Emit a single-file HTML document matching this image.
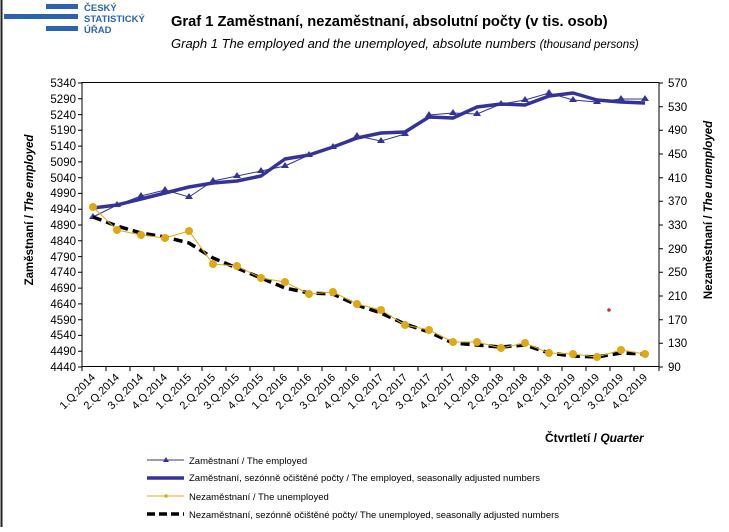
<!DOCTYPE html>
<html><head><meta charset="utf-8"><style>
body{margin:0;width:729px;height:527px;background:#fff;overflow:hidden;font-family:"Liberation Sans",sans-serif}
</style></head><body>
<svg width="729" height="527" xmlns="http://www.w3.org/2000/svg" font-family="Liberation Sans, sans-serif">
<line x1="1.5" y1="0" x2="1.5" y2="527" stroke="#222" stroke-width="2"/>
<rect x="46" y="4" width="32" height="5" fill="#2a64b0"/>
<rect x="4" y="14" width="74" height="5" fill="#2a64b0"/>
<rect x="46" y="26" width="32" height="5" fill="#2a64b0"/>
<g fill="#2a64b0" font-weight="bold" font-size="9.5">
<text x="84" y="11">ČESKÝ</text><text x="84" y="22">STATISTICKÝ</text><text x="84" y="33">ÚŘAD</text></g>
<text x="171" y="26" font-size="14.7" font-weight="bold">Graf 1  Zaměstnaní, nezaměstnaní, absolutní počty (v tis. osob)</text>
<text x="171" y="48" font-size="13" font-style="italic">Graph 1  The employed and the unemployed, absolute numbers <tspan font-size="11.5">(thousand persons)</tspan></text>
<rect x="82" y="82.5" width="577" height="284" fill="none" stroke="#000" stroke-width="1"/>
<g stroke="#000" stroke-width="1">
<path d="M78 83H82M78 98.8H82M78 114.6H82M78 130.3H82M78 146.1H82M78 161.9H82M78 177.7H82M78 193.4H82M78 209.2H82M78 225H82M78 240.8H82M78 256.6H82M78 272.3H82M78 288.1H82M78 303.9H82M78 319.7H82M78 335.4H82M78 351.2H82M78 367H82"/>
<path d="M659 83H663M659 106.7H663M659 130.3H663M659 154H663M659 177.7H663M659 201.3H663M659 225H663M659 248.7H663M659 272.3H663M659 296H663M659 319.7H663M659 343.3H663M659 367H663"/>
<path d="M82 367v4M106 367v4M130 367v4M154 367v4M178 367v4M202 367v4M226 367v4M250 367v4M274 367v4M298 367v4M322 367v4M346 367v4M370 367v4M394 367v4M418 367v4M442 367v4M466 367v4M490 367v4M514 367v4M538 367v4M562 367v4M586 367v4M610 367v4M634 367v4M659 367v4"/>
</g>
<g font-size="11.5" text-anchor="end">
<text x="76" y="87">5340</text><text x="76" y="103">5290</text><text x="76" y="119">5240</text><text x="76" y="134">5190</text><text x="76" y="150">5140</text><text x="76" y="166">5090</text><text x="76" y="182">5040</text><text x="76" y="197">4990</text><text x="76" y="213">4940</text><text x="76" y="229">4890</text><text x="76" y="245">4840</text><text x="76" y="261">4790</text><text x="76" y="276">4740</text><text x="76" y="292">4690</text><text x="76" y="308">4640</text><text x="76" y="324">4590</text><text x="76" y="339">4540</text><text x="76" y="355">4490</text><text x="76" y="371">4440</text>
</g>
<g font-size="11.5">
<text x="668" y="87">570</text><text x="668" y="111">530</text><text x="668" y="134">490</text><text x="668" y="158">450</text><text x="668" y="182">410</text><text x="668" y="205">370</text><text x="668" y="229">330</text><text x="668" y="253">290</text><text x="668" y="276">250</text><text x="668" y="300">210</text><text x="668" y="324">170</text><text x="668" y="347">130</text><text x="668" y="371">90</text>
</g>
<text transform="translate(33,210) rotate(-90)" font-size="11.5" font-weight="bold" text-anchor="middle">Zaměstnaní / <tspan font-style="italic">The employed</tspan></text>
<text transform="translate(712,210) rotate(-90)" font-size="11.5" font-weight="bold" text-anchor="middle">Nezaměstnaní / <tspan font-style="italic">The unemployed</tspan></text>
<g font-size="11" text-anchor="end">
<text transform="translate(96,378) rotate(-45)">1.Q.2014</text>
<text transform="translate(120,378) rotate(-45)">2.Q.2014</text>
<text transform="translate(144,378) rotate(-45)">3.Q.2014</text>
<text transform="translate(168,378) rotate(-45)">4.Q.2014</text>
<text transform="translate(192,378) rotate(-45)">1.Q.2015</text>
<text transform="translate(216,378) rotate(-45)">2.Q.2015</text>
<text transform="translate(240,378) rotate(-45)">3.Q.2015</text>
<text transform="translate(264,378) rotate(-45)">4.Q.2015</text>
<text transform="translate(288,378) rotate(-45)">1.Q.2016</text>
<text transform="translate(312,378) rotate(-45)">2.Q.2016</text>
<text transform="translate(336,378) rotate(-45)">3.Q.2016</text>
<text transform="translate(360,378) rotate(-45)">4.Q.2016</text>
<text transform="translate(384,378) rotate(-45)">1.Q.2017</text>
<text transform="translate(408,378) rotate(-45)">2.Q.2017</text>
<text transform="translate(432,378) rotate(-45)">3.Q.2017</text>
<text transform="translate(456,378) rotate(-45)">4.Q.2017</text>
<text transform="translate(480,378) rotate(-45)">1.Q.2018</text>
<text transform="translate(504,378) rotate(-45)">2.Q.2018</text>
<text transform="translate(528,378) rotate(-45)">3.Q.2018</text>
<text transform="translate(552,378) rotate(-45)">4.Q.2018</text>
<text transform="translate(576,378) rotate(-45)">1.Q.2019</text>
<text transform="translate(600,378) rotate(-45)">2.Q.2019</text>
<text transform="translate(624,378) rotate(-45)">3.Q.2019</text>
<text transform="translate(648,378) rotate(-45)">4.Q.2019</text>
</g>
<text x="545" y="442" font-size="12" font-weight="bold">Čtvrtletí  /  <tspan font-style="italic">Quarter</tspan></text>
<polyline fill="none" stroke="#333399" stroke-width="3.5" stroke-linejoin="round" points="93,208 117,205 141,199 165,193 189,187 213,183 237,181 261,176 285,159 309,155 333,147 357,138 381,133 405,132 429,117 453,118 477,107 501,104 525,105 549,96 573,93 597,100 621,102 645,103"/>
<polyline fill="none" stroke="#333399" stroke-width="1" points="93,217 117,205 141,196 165,190 189,197 213,181 237,176 261,171 285,166 309,155 333,147 357,136 381,141 405,134 429,115 453,113 477,114 501,104 525,100 549,93 573,100 597,102 621,99 645,99"/>
<g fill="#333399">
<path d="M93,213l-4,6h8z M117,201l-4,6h8z M141,192l-4,6h8z M165,186l-4,6h8z M189,193l-4,6h8z M213,177l-4,6h8z M237,172l-4,6h8z M261,167l-4,6h8z M285,162l-4,6h8z M309,151l-4,6h8z M333,143l-4,6h8z M357,132l-4,6h8z M381,137l-4,6h8z M405,130l-4,6h8z M429,111l-4,6h8z M453,109l-4,6h8z M477,110l-4,6h8z M501,100l-4,6h8z M525,96l-4,6h8z M549,89l-4,6h8z M573,96l-4,6h8z M597,98l-4,6h8z M621,95l-4,6h8z M645,95l-4,6h8z"/>
</g>
<polyline fill="none" stroke="#000" stroke-width="3.5" stroke-dasharray="9,5" points="93,217 117,226 141,233 165,237 189,243 213,258 237,268 261,278 285,288 309,293 333,294 357,305 381,313 405,324 429,332 453,343 477,345 501,347 525,345 549,353 573,356 597,357 621,353 645,354"/>
<polyline fill="none" stroke="#e0a818" stroke-width="1" points="93,207 117,230 141,235 165,238 189,231 213,264 237,266 261,278 285,282 309,294 333,292 357,304 381,310 405,325 429,330 453,342 477,342 501,348 525,343 549,353 573,354 597,357 621,350 645,354"/>
<g fill="#e0a818">
<circle cx="93" cy="207" r="4"/><circle cx="117" cy="230" r="4"/><circle cx="141" cy="235" r="4"/><circle cx="165" cy="238" r="4"/><circle cx="189" cy="231" r="4"/><circle cx="213" cy="264" r="4"/><circle cx="237" cy="266" r="4"/><circle cx="261" cy="278" r="4"/><circle cx="285" cy="282" r="4"/><circle cx="309" cy="294" r="4"/><circle cx="333" cy="292" r="4"/><circle cx="357" cy="304" r="4"/><circle cx="381" cy="310" r="4"/><circle cx="405" cy="325" r="4"/><circle cx="429" cy="330" r="4"/><circle cx="453" cy="342" r="4"/><circle cx="477" cy="342" r="4"/><circle cx="501" cy="348" r="4"/><circle cx="525" cy="343" r="4"/><circle cx="549" cy="353" r="4"/><circle cx="573" cy="354" r="4"/><circle cx="597" cy="357" r="4"/><circle cx="621" cy="350" r="4"/><circle cx="645" cy="354" r="4"/>
</g>
<circle cx="609" cy="310" r="1.8" fill="#cc3333"/>
<line x1="147" y1="460" x2="184" y2="460" stroke="#333399" stroke-width="1"/>
<path d="M166,457l-3,5h6z" fill="#333399"/>
<text x="189" y="464" font-size="9.5">Zaměstnaní / The employed</text>
<line x1="147" y1="478" x2="184" y2="478" stroke="#333399" stroke-width="3.5"/>
<text x="189" y="481" font-size="9.5">Zaměstnaní, sezónně očištěné počty / The employed, seasonally adjusted numbers</text>
<line x1="147" y1="496" x2="184" y2="496" stroke="#e0a818" stroke-width="1"/>
<circle cx="166" cy="496" r="1.8" fill="#e0a818"/>
<text x="189" y="500" font-size="9.5">Nezaměstnaní / The unemployed</text>
<line x1="147" y1="514" x2="184" y2="514" stroke="#000" stroke-width="3.5" stroke-dasharray="8,4"/>
<text x="189" y="518" font-size="9.5">Nezaměstnaní, sezónně očištěné počty/ The unemployed, seasonally adjusted numbers</text>
</svg>
</body></html>
